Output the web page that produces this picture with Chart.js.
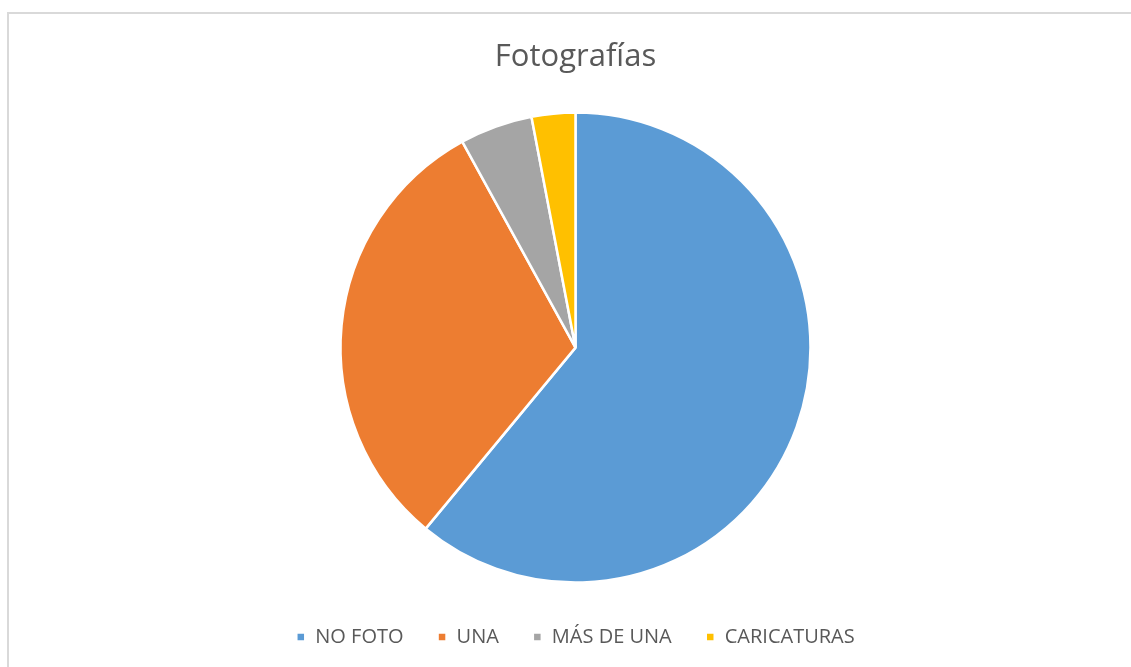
<!DOCTYPE html>
<html>
<head>
<meta charset="utf-8">
<script src="https://cdn.jsdelivr.net/npm/chart.js@4.4.1/dist/chart.umd.min.js"></script>
<style>
    html, body { margin: 0; padding: 0; background: #fff; }
    #wrap { position: relative; width: 1131px; height: 667px; }
</style>
</head>
<body>
<div id="wrap"><canvas id="fotosChart"></canvas></div>
<script>
// Datos del gráfico
const categorias = ['NO FOTO', 'UNA', 'MÁS DE UNA', 'CARICATURAS'];
const valores = [61, 31, 5, 3];
const colores = ['#5B9BD5', '#ED7D31', '#A5A5A5', '#FFC000'];

// marco gris claro como en la imagen original
const marco = {
    id: 'marco',
    beforeDraw(chart) {
        const ctx = chart.ctx;
        ctx.save();
        ctx.strokeStyle = '#d9d9d9';
        ctx.lineWidth = 2;
        ctx.beginPath();
        ctx.moveTo(8, chart.height);
        ctx.lineTo(8, 13);
        ctx.lineTo(chart.width, 13);
        ctx.stroke();
        ctx.restore();
    }
};

new Chart(document.getElementById('fotosChart'), {
    type: 'pie',
    data: {
        labels: categorias,
        datasets: [{
            data: valores,
            backgroundColor: colores,
            borderColor: '#fff',
            borderWidth: 2.5,
            radius: 235
        }]
    },
    options: {
        responsive: true,
        maintainAspectRatio: false,
        animation: false,
        layout: { padding: { top: 0, bottom: 10, left: 20 } },
        plugins: {
            title: {
                display: true,
                text: 'Fotografías',
                color: '#595959',
                font: { family: "'Open Sans', sans-serif", size: 31, weight: 'normal' },
                padding: { top: 39, bottom: 26 }
            },
            legend: {
                position: 'bottom',
                labels: {
                    color: '#595959',
                    boxWidth: 9,
                    boxHeight: 9,
                    padding: 34,
                    font: { family: "'Open Sans', sans-serif", size: 20 }
                }
            },
            tooltip: { enabled: false }
        }
    },
    plugins: [marco]
});
</script>
</body>
</html>
